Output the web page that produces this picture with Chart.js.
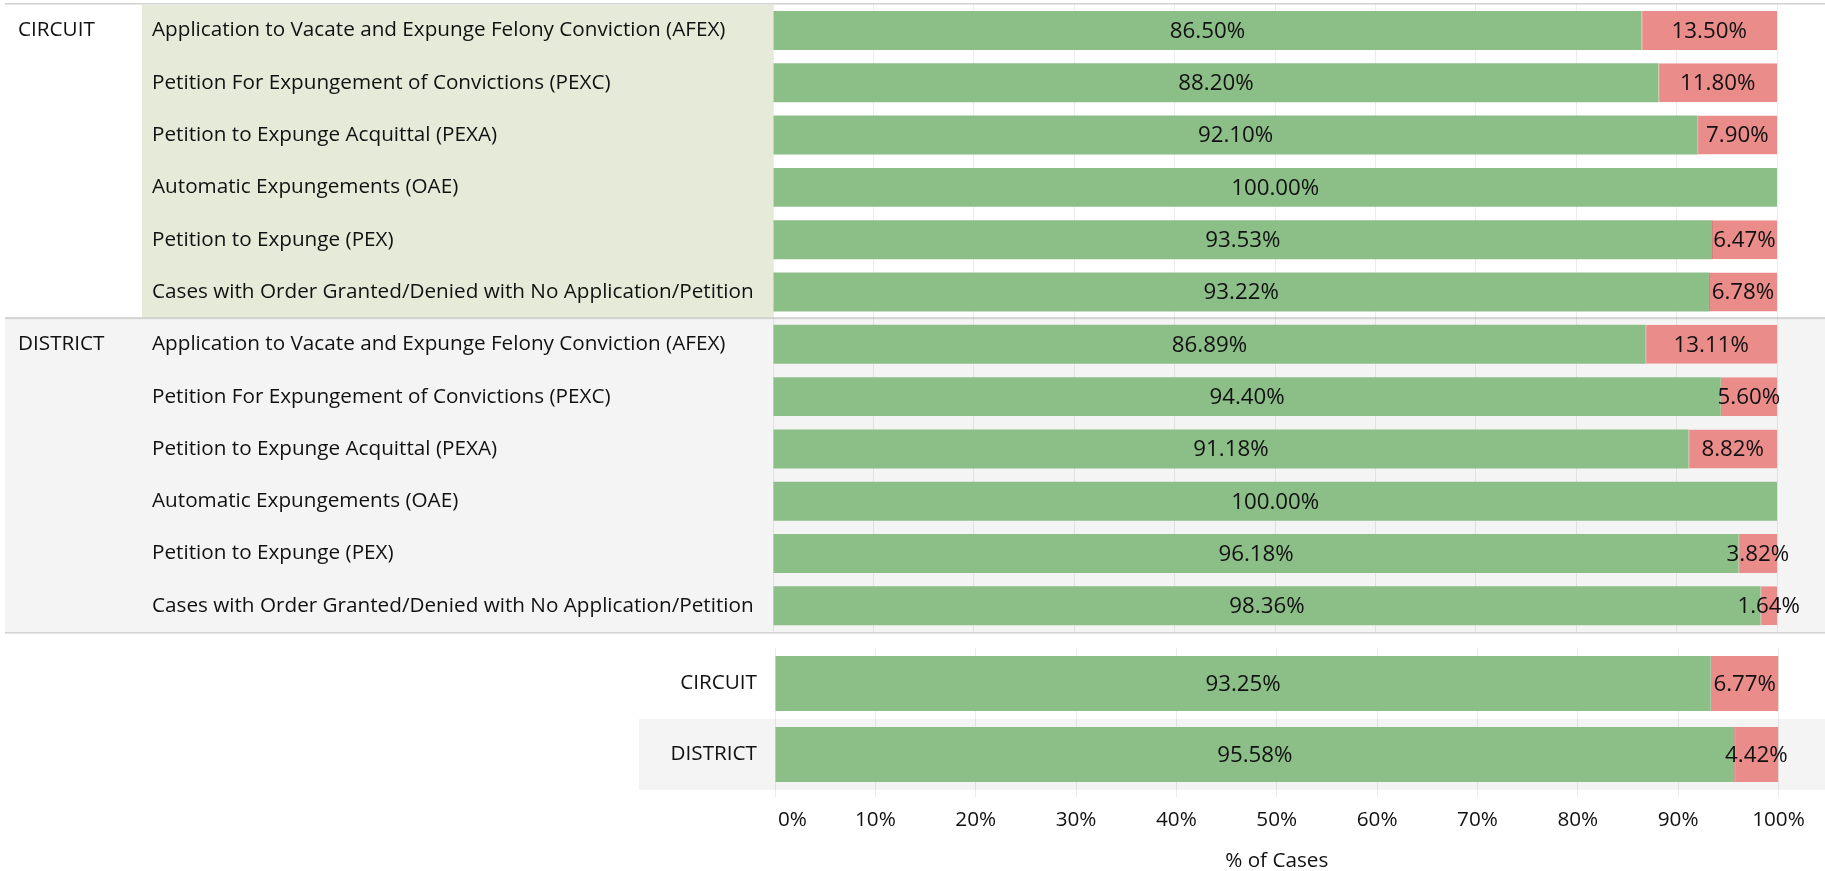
<!DOCTYPE html>
<html>
<head>
<meta charset="utf-8">
<script src="https://cdn.jsdelivr.net/npm/chart.js@4/dist/chart.umd.min.js"></script>
<style>
body{margin:0;background:#fff;width:1825px;height:871px;overflow:hidden;position:relative}
canvas{position:absolute;left:0}
#top{top:0}
#bottom{top:632px}
</style>
</head>
<body>
<canvas id="top" width="1825" height="632"></canvas>
<canvas id="bottom" width="1825" height="239"></canvas>
<script>
// data (% of cases)
const courts = ["CIRCUIT", "DISTRICT"];
const caseTypes = [
  "Application to Vacate and Expunge Felony Conviction (AFEX)",
  "Petition For Expungement of Convictions (PEXC)",
  "Petition to Expunge Acquittal (PEXA)",
  "Automatic Expungements (OAE)",
  "Petition to Expunge (PEX)",
  "Cases with Order Granted/Denied with No Application/Petition"
];
const circuitGranted  = [86.50, 88.20, 92.10, 100.00, 93.53, 93.22];
const circuitDenied   = [13.50, 11.80, 7.90, 0, 6.47, 6.78];
const districtGranted = [86.89, 94.40, 91.18, 100.00, 96.18, 98.36];
const districtDenied  = [13.11, 5.60, 8.82, 0, 3.82, 1.64];
const totalGranted = [93.25, 95.58];
const totalDenied  = [6.77, 4.42];
const xTicks = [0, 10, 20, 30, 40, 50, 60, 70, 80, 90, 100];
const xTitle = "% of Cases";

const FONT = "'Open Sans', sans-serif";
const TEXT = "#111";
const GREEN = "#8CBE87", RED = "#E98C8A", RED_EDGE = "#D5726F";
const GRID = "rgba(0,0,0,0.075)";
const BAND = "#F4F4F4", HILITE = "#E6EBD9", LINE = "#D2D2D2";
const HEAD_SIZE = 20.7, NUM_SIZE = 22.3;

// value text in the middle of each segment
const valueLabels = {
  id: "valueLabels",
  afterDatasetsDraw(chart) {
    const ctx = chart.ctx;
    ctx.save();
    ctx.font = NUM_SIZE + "px " + FONT;
    ctx.fillStyle = TEXT;
    ctx.textAlign = "center";
    ctx.textBaseline = "middle";
    chart.data.datasets.forEach((ds, i) => {
      chart.getDatasetMeta(i).data.forEach((bar, j) => {
        const v = ds.data[j];
        if (!v) return;
        ctx.fillText(v.toFixed(2) + "%", (bar.x + bar.base) / 2, bar.y + 1);
      });
    });
    ctx.restore();
  }
};

const bgTop = {
  id: "bgTop",
  beforeDraw(chart) {
    const {ctx, chartArea: a, scales: {y}} = chart;
    const h = y.getPixelForValue(1) - y.getPixelForValue(0);
    const split = y.getPixelForValue(caseTypes.length) - h / 2;
    ctx.save();
    ctx.fillStyle = HILITE;
    ctx.fillRect(142, 5, a.left - 142, split - 5);
    ctx.fillStyle = BAND;
    ctx.fillRect(5, split, chart.width - 5, a.bottom - split);
    ctx.fillStyle = LINE;
    ctx.fillRect(5, 3, chart.width - 5, 1.5);
    ctx.fillRect(5, split - 1, chart.width - 5, 2);
    ctx.restore();
  },
  afterDraw(chart) {
    // court names beside the first row of each group
    const {ctx, scales: {y}} = chart;
    ctx.save();
    ctx.font = HEAD_SIZE + "px " + FONT;
    ctx.fillStyle = TEXT;
    ctx.textAlign = "left";
    ctx.textBaseline = "middle";
    courts.forEach((c, i) => ctx.fillText(c, 18, y.getPixelForValue(i * caseTypes.length)));
    ctx.restore();
  }
};

const bgBottom = {
  id: "bgBottom",
  beforeDraw(chart) {
    const {ctx, scales: {y}} = chart;
    const h = y.getPixelForValue(1) - y.getPixelForValue(0);
    ctx.save();
    ctx.fillStyle = BAND;
    ctx.fillRect(639, y.getPixelForValue(1) - h / 2, chart.width - 639, h);
    ctx.fillStyle = LINE;
    ctx.fillRect(5, 0, chart.width - 5, 1.5);
    ctx.restore();
  },
  afterDraw(chart) {
    // first tick label sits just right of the axis start
    const {ctx, scales: {x}} = chart;
    ctx.save();
    ctx.font = HEAD_SIZE + "px " + FONT;
    ctx.fillStyle = TEXT;
    ctx.textAlign = "left";
    ctx.textBaseline = "middle";
    ctx.fillText(xTicks[0] + "%", x.getPixelForValue(xTicks[0]) + 3, x.top + 7 + 10.4 + 12.4);
    ctx.restore();
  }
};

function segs(g, d, pct) {
  return [
    {label: "Granted", data: g, backgroundColor: GREEN, categoryPercentage: 1, barPercentage: pct},
    {label: "Denied", data: d, backgroundColor: RED, borderColor: RED_EDGE,
     borderWidth: {left: 1, right: 0, top: 0, bottom: 0}, borderSkipped: false,
     categoryPercentage: 1, barPercentage: pct}
  ];
}

// row labels should not push the plot area in
function noEdgePad(s, w) {
  s.width = w;
  s.paddingTop = 0;
  s.paddingBottom = 0;
}

Chart.defaults.font.family = FONT;

new Chart(document.getElementById("top"), {
  type: "bar",
  data: {
    labels: courts.flatMap(() => caseTypes),
    datasets: segs(circuitGranted.concat(districtGranted), circuitDenied.concat(districtDenied), 0.745)
  },
  options: {
    indexAxis: "y", responsive: false, animation: false, devicePixelRatio: 1,
    layout: {padding: {left: 152, right: 48, top: 4.3, bottom: 0}},
    plugins: {legend: {display: false}, tooltip: {enabled: false}},
    scales: {
      x: {stacked: true, min: 0, max: 100,
          ticks: {display: false, stepSize: 10},
          grid: {color: GRID, drawTicks: false}, border: {display: false},
          afterFit: s => { s.height = 0; }},
      y: {stacked: true, grid: {display: false}, border: {display: false},
          ticks: {crossAlign: "far", padding: 0, color: TEXT, autoSkip: false, font: {size: HEAD_SIZE}},
          afterFit: s => noEdgePad(s, 621)}
    }
  },
  plugins: [bgTop, valueLabels]
});

new Chart(document.getElementById("bottom"), {
  type: "bar",
  data: {labels: courts, datasets: segs(totalGranted, totalDenied, 0.775)},
  options: {
    indexAxis: "y", responsive: false, animation: false, devicePixelRatio: 1,
    layout: {padding: {left: 0, right: 46.5, top: 16, bottom: 0}},
    plugins: {legend: {display: false}, tooltip: {enabled: false}},
    scales: {
      x: {stacked: true, min: 0, max: 100,
          afterBuildTicks: s => { s.ticks = xTicks.map(v => ({value: v})); },
          ticks: {padding: 10.4, color: TEXT, maxRotation: 0, autoSkip: false, font: {size: HEAD_SIZE},
                  callback: v => v === xTicks[0] ? "" : v + "%"},
          grid: {color: GRID, tickColor: GRID, drawTicks: true, tickLength: 7}, border: {display: false},
          title: {display: true, text: xTitle, color: TEXT, padding: 0, font: {size: HEAD_SIZE, lineHeight: 1}},
          afterFit: s => { s.height = 81; }},
      y: {stacked: true, grid: {display: false}, border: {display: false},
          ticks: {crossAlign: "near", padding: 10, color: TEXT, font: {size: HEAD_SIZE}},
          afterFit: s => noEdgePad(s, 775)}
    }
  },
  plugins: [bgBottom, valueLabels]
});
</script>
</body>
</html>
